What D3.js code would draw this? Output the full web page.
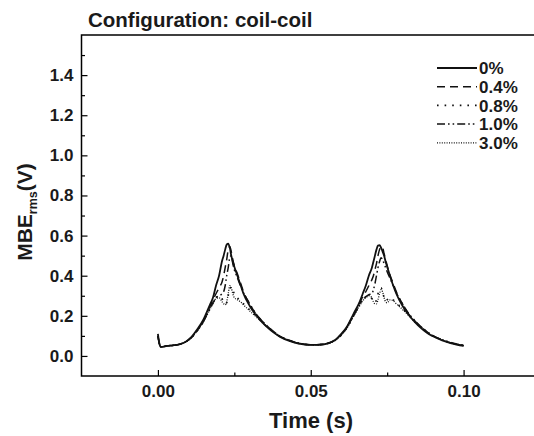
<!DOCTYPE html>
<html>
<head>
<meta charset="utf-8">
<script src="https://cdn.jsdelivr.net/npm/d3@7"></script>
<style>
  body { margin: 0; background: #fff; }
  svg { display: block; font-family: "Liberation Sans", Arial, sans-serif; font-weight: bold; }
</style>
</head>
<body>
<svg id="chart" width="534" height="436"></svg>
<script>
'use strict'

// time samples (s)
const time = [
  0, 0.0005, 0.001, 0.003, 0.005, 0.007, 0.009, 0.011, 0.013, 0.015, 0.017, 0.018, 0.019, 0.020, 0.021, 0.0215, 0.022, 0.0225,
  0.023, 0.0235, 0.024, 0.0245, 0.025, 0.026, 0.027, 0.028, 0.030, 0.032, 0.034, 0.036, 0.038, 0.040, 0.043, 0.046, 0.050,
  0.052, 0.054, 0.056, 0.058, 0.060, 0.062, 0.064, 0.066, 0.067, 0.068, 0.069, 0.070, 0.0705, 0.071, 0.0715, 0.072, 0.0725,
  0.073, 0.0735, 0.074, 0.0745, 0.075, 0.076, 0.077, 0.078, 0.080, 0.082, 0.084, 0.086, 0.088, 0.090, 0.093, 0.096, 0.100
]

// MBE rms (V) for each defect level
const mbe0 = [
  0.11, 0.06, 0.045, 0.05, 0.053, 0.058, 0.07, 0.095, 0.135, 0.185, 0.255, 0.29, 0.35, 0.40, 0.475, 0.50, 0.53, 0.555,
  0.56, 0.54, 0.50, 0.47, 0.445, 0.40, 0.355, 0.31, 0.25, 0.205, 0.17, 0.14, 0.115, 0.095, 0.075, 0.062, 0.055,
  0.055, 0.057, 0.065, 0.08, 0.11, 0.15, 0.21, 0.27, 0.31, 0.35, 0.40, 0.44, 0.47, 0.50, 0.53, 0.55, 0.552,
  0.54, 0.52, 0.50, 0.47, 0.445, 0.395, 0.35, 0.31, 0.25, 0.205, 0.17, 0.14, 0.115, 0.098, 0.078, 0.063, 0.05
]
const mbe04 = [
  0.10, 0.06, 0.045, 0.05, 0.053, 0.058, 0.07, 0.093, 0.13, 0.18, 0.245, 0.28, 0.31, 0.34, 0.37, 0.40, 0.44, 0.48,
  0.53, 0.545, 0.52, 0.48, 0.45, 0.41, 0.365, 0.32, 0.26, 0.21, 0.175, 0.145, 0.118, 0.097, 0.077, 0.063, 0.056,
  0.056, 0.058, 0.065, 0.08, 0.108, 0.148, 0.205, 0.265, 0.295, 0.32, 0.35, 0.38, 0.40, 0.43, 0.46, 0.50, 0.53,
  0.545, 0.54, 0.51, 0.48, 0.45, 0.40, 0.36, 0.32, 0.26, 0.21, 0.175, 0.145, 0.12, 0.10, 0.08, 0.065, 0.052
]
const mbe08 = [
  0.10, 0.06, 0.045, 0.05, 0.053, 0.058, 0.07, 0.092, 0.128, 0.175, 0.235, 0.265, 0.29, 0.30, 0.285, 0.27, 0.26, 0.265,
  0.30, 0.33, 0.345, 0.33, 0.31, 0.29, 0.275, 0.26, 0.23, 0.20, 0.17, 0.143, 0.118, 0.097, 0.077, 0.063, 0.056,
  0.056, 0.058, 0.064, 0.078, 0.105, 0.145, 0.20, 0.255, 0.28, 0.295, 0.30, 0.285, 0.27, 0.265, 0.28, 0.31, 0.33,
  0.34, 0.32, 0.29, 0.275, 0.28, 0.29, 0.28, 0.265, 0.235, 0.205, 0.172, 0.145, 0.12, 0.10, 0.08, 0.065, 0.052
]
const mbe10 = [
  0.10, 0.06, 0.045, 0.05, 0.053, 0.058, 0.07, 0.092, 0.128, 0.175, 0.235, 0.265, 0.29, 0.30, 0.31, 0.32, 0.35, 0.40,
  0.44, 0.49, 0.50, 0.46, 0.43, 0.39, 0.35, 0.315, 0.26, 0.212, 0.176, 0.146, 0.12, 0.098, 0.078, 0.064, 0.056,
  0.056, 0.058, 0.064, 0.078, 0.105, 0.145, 0.20, 0.255, 0.28, 0.295, 0.305, 0.31, 0.33, 0.36, 0.40, 0.44, 0.47,
  0.49, 0.48, 0.46, 0.44, 0.42, 0.385, 0.35, 0.315, 0.26, 0.212, 0.177, 0.147, 0.122, 0.101, 0.081, 0.066, 0.053
]
const mbe30 = [
  0.10, 0.06, 0.045, 0.05, 0.053, 0.058, 0.07, 0.092, 0.128, 0.172, 0.232, 0.26, 0.285, 0.29, 0.27, 0.26, 0.255, 0.27,
  0.31, 0.35, 0.34, 0.31, 0.29, 0.28, 0.27, 0.255, 0.225, 0.197, 0.168, 0.142, 0.117, 0.096, 0.076, 0.062, 0.056,
  0.056, 0.058, 0.064, 0.078, 0.104, 0.143, 0.198, 0.25, 0.275, 0.29, 0.30, 0.29, 0.27, 0.26, 0.26, 0.28, 0.31,
  0.33, 0.32, 0.29, 0.27, 0.265, 0.28, 0.275, 0.26, 0.232, 0.202, 0.17, 0.143, 0.118, 0.099, 0.079, 0.064, 0.051
]

const seriesNames = ['0%', '0.4%', '0.8%', '1.0%', '3.0%']
const seriesValues = [mbe0, mbe04, mbe08, mbe10, mbe30]
const dashes = ['none', '8,5', '1.6,6', '8,3,1.6,3,1.6,3', '1,1.4']
const widths = [1.8, 1.5, 1.6, 1.5, 1.3]

const xMajor = [0, 0.05, 0.10]
const xMinor = [0.025, 0.075]
const yMajor = [0, 0.2, 0.4, 0.6, 0.8, 1.0, 1.2, 1.4]
const yMinor = [0.1, 0.3, 0.5, 0.7, 0.9, 1.1, 1.3, 1.5]

const svg = d3.select('#chart')
const plotLeft = 81.5, plotTop = 35, plotBottom = 376, plotRight = 540

const x = d3.scaleLinear().domain([-0.025, 0.125]).range([plotLeft, plotRight])
const y = d3.scaleLinear().domain([-0.1, 1.6]).range([plotBottom, plotTop])

// frame
svg.append('rect')
  .attr('x', plotLeft).attr('y', plotTop)
  .attr('width', plotRight - plotLeft).attr('height', plotBottom - plotTop)
  .attr('fill', 'none').attr('stroke', '#000').attr('stroke-width', 1.5)

svg.append('defs').append('clipPath').attr('id', 'plot')
  .append('rect').attr('x', plotLeft).attr('y', plotTop)
  .attr('width', plotRight - plotLeft).attr('height', plotBottom - plotTop)

// axes, ticks pointing inward
const gx = svg.append('g').attr('transform', `translate(0,${plotBottom})`)
gx.call(d3.axisBottom(x).tickValues(xMajor).tickSize(-6).tickPadding(9).tickFormat(d3.format('.2f')))
const gxm = svg.append('g').attr('transform', `translate(0,${plotBottom})`)
gxm.call(d3.axisBottom(x).tickValues(xMinor).tickSize(-3.5).tickFormat(''))

const gy = svg.append('g').attr('transform', `translate(${plotLeft},0)`)
gy.call(d3.axisLeft(y).tickValues(yMajor).tickSize(-6).tickPadding(8).tickFormat(d3.format('.1f')))
const gym = svg.append('g').attr('transform', `translate(${plotLeft},0)`)
gym.call(d3.axisLeft(y).tickValues(yMinor).tickSize(-3.5).tickFormat(''))

svg.selectAll('.domain').remove()
svg.selectAll('.tick line').attr('stroke', '#000').attr('stroke-width', 1.2)
svg.selectAll('.tick text')
  .attr('fill', '#1a1a1a')
  .style('font-family', '"Liberation Sans", Arial, sans-serif')
  .style('font-weight', 'bold')
  .style('font-size', '17px')

// curves
const line = d3.line()
  .x((d, i) => x(time[i]))
  .y(d => y(d))
  .curve(d3.curveMonotoneX)

const plot = svg.append('g').attr('clip-path', 'url(#plot)')
for (let k = seriesValues.length - 1; k >= 0; k--) {
  plot.append('path')
    .attr('d', line(seriesValues[k]))
    .attr('fill', 'none')
    .attr('stroke', '#111')
    .attr('stroke-width', widths[k])
    .attr('stroke-dasharray', dashes[k])
    .attr('stroke-linejoin', 'round')
}

// legend
const legend = svg.append('g')
seriesNames.forEach(function (name, i) {
  const ly = 68 + i * 18.7
  legend.append('line')
    .attr('x1', 437).attr('x2', 477).attr('y1', ly).attr('y2', ly)
    .attr('stroke', '#111')
    .attr('stroke-width', widths[i])
    .attr('stroke-dasharray', dashes[i])
  legend.append('text')
    .attr('x', 479).attr('y', ly).attr('dy', '0.36em')
    .attr('fill', '#1a1a1a')
    .style('font-size', '17px')
    .text(name)
})

// title and axis labels
svg.append('text')
  .attr('x', 88).attr('y', 27)
  .attr('fill', '#1a1a1a')
  .style('font-size', '20.5px')
  .text('Configuration: coil-coil')

svg.append('text')
  .attr('x', 311).attr('y', 428)
  .attr('text-anchor', 'middle')
  .attr('fill', '#1a1a1a')
  .style('font-size', '22px')
  .text('Time (s)')

const ylab = svg.append('text')
  .attr('transform', 'translate(32,212) rotate(-90)')
  .attr('text-anchor', 'middle')
  .attr('fill', '#1a1a1a')
  .style('font-size', '21px')
ylab.append('tspan').text('MBE')
ylab.append('tspan').attr('dy', 5).style('font-size', '12.5px').text('rms')
ylab.append('tspan').attr('dy', -5).text('(V)')
</script>
</body>
</html>
